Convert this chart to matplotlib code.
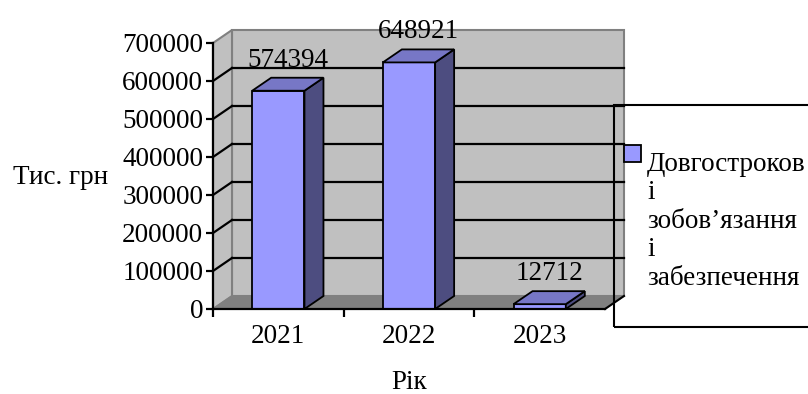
import matplotlib
matplotlib.use("Agg")
import matplotlib.pyplot as plt
from matplotlib.patches import Polygon, Rectangle
import numpy as np

# Data
years = ["2021", "2022", "2023"]
values = [574394, 648921, 12712]
y_ticks = [0, 100000, 200000, 300000, 400000, 500000, 600000, 700000]
series_name = "Довгостроков\nі\nзобов’язання\nі\nзабезпечення"
y_title = "Тис. грн"
x_title = "Рік"

FRONT = "#9999FF"
SIDE = "#4D4D80"
TOP = "#7777C6"
WALL = "#C0C0C0"
FLOOR = "#808080"
EDGE_GRAY = "#808080"

plt.rcParams["font.family"] = ["Liberation Serif", "DejaVu Serif"]
FS = 19.5

W, H, DPI = 808, 394, 100
fig = plt.figure(figsize=(W / DPI, H / DPI), dpi=DPI)

# plot area (front plane) in pixels
x0, x1, ytop, ybot = 213, 605, 43, 309
ax = fig.add_axes([x0 / W, (H - ybot) / H, (x1 - x0) / W, (ybot - ytop) / H])
n = len(years)
xmin, xmax = -0.5, n - 0.5
ymin, ymax = y_ticks[0], y_ticks[-1]
ax.set_xlim(xmin, xmax)
ax.set_ylim(ymin, ymax)

# depth offset of the 3-D box, converted from pixels to data units
depth_px = (19, 13)
dx = depth_px[0] / (x1 - x0) * (xmax - xmin)
dy = depth_px[1] / (ybot - ytop) * (ymax - ymin)


def poly(pts, fc, ec, lw, z):
    p = Polygon(pts, closed=True, facecolor=fc, edgecolor=ec, linewidth=lw,
                zorder=z, clip_on=False, joinstyle="miter")
    ax.add_patch(p)


# back wall, side wall, floor
poly([(xmin + dx, ymin + dy), (xmax + dx, ymin + dy), (xmax + dx, ymax + dy), (xmin + dx, ymax + dy)],
     WALL, EDGE_GRAY, 1.5, 1)
poly([(xmin, ymin), (xmin + dx, ymin + dy), (xmin + dx, ymax + dy), (xmin, ymax)],
     WALL, EDGE_GRAY, 1.5, 1)
poly([(xmin, ymin), (xmax, ymin), (xmax + dx, ymin + dy), (xmin + dx, ymin + dy)],
     FLOOR, EDGE_GRAY, 1.0, 2)
ax.plot([xmax, xmax + dx], [ymin, ymin + dy], color="black", lw=1.5, zorder=2.5, clip_on=False)

# gridlines on the back wall and the side wall
for v in y_ticks[1:-1]:
    ax.plot([xmin + dx, xmax + dx], [v + dy, v + dy], color="black", lw=1.6, zorder=3, clip_on=False)
    ax.plot([xmin, xmin + dx], [v, v + dy], color="black", lw=1.6, zorder=3, clip_on=False)

# 3-D bars
bw = 0.4
for i, v in enumerate(values):
    l, r = i - bw / 2, i + bw / 2
    poly([(l, 0), (r, 0), (r, v), (l, v)], FRONT, "black", 1.3, 5)
    poly([(r, 0), (r + dx, dy), (r + dx, v + dy), (r, v)], SIDE, "black", 1.3, 5)
    poly([(l, v), (r, v), (r + dx, v + dy), (l + dx, v + dy)], TOP, "black", 1.3, 5)
    ax.annotate(f"{v}", xy=(i + dx / 2, v + dy), xytext=(0, 8), textcoords="offset points",
                ha="center", va="baseline", fontsize=FS, zorder=6, annotation_clip=False)

# axes styling
for s in ["top", "right"]:
    ax.spines[s].set_visible(False)
for s in ["left", "bottom"]:
    ax.spines[s].set_color("black")
    ax.spines[s].set_linewidth(1.6)
    ax.spines[s].set_zorder(7)
ax.patch.set_visible(False)

ax.set_yticks(y_ticks)
ax.set_yticklabels([str(t) for t in y_ticks])
ax.tick_params(axis="y", direction="out", length=5, width=1.6, pad=2, labelsize=FS)

ax.set_xticks(np.arange(n))
ax.set_xticklabels(years)
ax.set_xticks(np.arange(n) - 0.5, minor=True)
ax.tick_params(axis="x", which="major", length=0, pad=11, labelsize=FS)
ax.tick_params(axis="x", which="minor", direction="out", length=6, width=1.6)

# axis titles
fig.text(61 / W, 1 - 177 / H, y_title, ha="center", va="center", fontsize=FS)
fig.text(409 / W, 1 - 389 / H, x_title, ha="center", va="baseline", fontsize=FS)

# legend: frame (open to the right edge), key swatch and multi-line entry text
frame = Rectangle((614 / W, 1 - 327 / H), 220 / W, 222 / H, transform=fig.transFigure,
                  facecolor="none", edgecolor="black", linewidth=1.5, zorder=10, clip_on=False)
fig.add_artist(frame)
key = Rectangle((624 / W, 1 - 162 / H), 17 / W, 17 / H, transform=fig.transFigure,
                facecolor=FRONT, edgecolor="black", linewidth=1.3, zorder=10)
fig.add_artist(key)
fig.text(647 / W, 1 - 285 / H, series_name, ha="left", va="baseline", fontsize=FS,
         linespacing=1.19, multialignment="left")

fig.savefig("out.png", dpi=DPI)
